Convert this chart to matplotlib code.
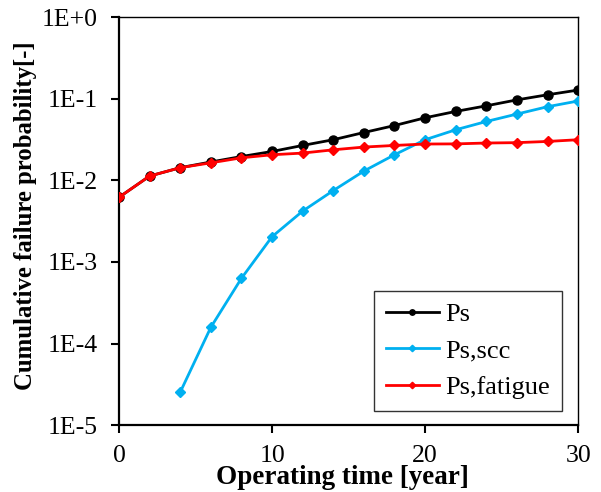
import matplotlib
matplotlib.use("Agg")
import matplotlib.pyplot as plt
from matplotlib.ticker import FixedLocator, FixedFormatter, NullLocator

plt.rcParams['font.family'] = ['Liberation Serif', 'DejaVu Serif']

years = [0, 2, 4, 6, 8, 10, 12, 14, 16, 18, 20, 22, 24, 26, 28, 30]
ps = [0.0062, 0.0113, 0.0143, 0.0168, 0.0196, 0.0226, 0.0268, 0.0315, 0.0386,
      0.047, 0.0585, 0.070, 0.082, 0.097, 0.112, 0.128]
scc_years = [4, 6, 8, 10, 12, 14, 16, 18, 20, 22, 24, 26, 28, 30]
ps_scc = [2.53e-5, 1.58e-4, 6.3e-4, 2.04e-3, 0.0042, 0.0075, 0.013, 0.0206,
          0.0315, 0.0417, 0.0527, 0.065, 0.080, 0.094]
ps_fatigue = [0.0062, 0.0113, 0.0143, 0.0164, 0.0189, 0.0206, 0.0216, 0.0237,
              0.0256, 0.0268, 0.0279, 0.028, 0.0287, 0.029, 0.030, 0.0315]

y_ticks = [1e-5, 1e-4, 1e-3, 1e-2, 1e-1, 1e0]
y_labels = ["1E-5", "1E-4", "1E-3", "1E-2", "1E-1", "1E+0"]
x_ticks = [0, 10, 20, 30]

fig = plt.figure(figsize=(6.01, 4.92), dpi=100)
ax = fig.add_axes([0.198, 0.136, 0.764, 0.829])

ax.plot(years, ps, color='black', lw=2, marker='o', ms=6.5, label='Ps', zorder=3)
ax.plot(scc_years, ps_scc, color='#00B0F0', lw=2, marker='D', ms=5.5, label='Ps,scc', zorder=4)
ax.plot(years, ps_fatigue, color='#FF0000', lw=2, marker='D', ms=5.5, label='Ps,fatigue', zorder=5)

ax.set_yscale('log')
ax.set_ylim(1e-5, 1)
ax.set_xlim(0, 30)
ax.yaxis.set_major_locator(FixedLocator(y_ticks))
ax.yaxis.set_major_formatter(FixedFormatter(y_labels))
ax.yaxis.set_minor_locator(NullLocator())
ax.set_xticks(x_ticks)

ax.tick_params(axis='both', direction='out', length=6, width=1.5, labelsize=18.5, colors='black')
ax.tick_params(axis='x', pad=8)
ax.tick_params(axis='y', pad=9.5)
for s in ['left', 'bottom']:
    ax.spines[s].set_linewidth(1.6)
for s in ['top', 'right']:
    ax.spines[s].set_linewidth(1.0)

ax.set_xlabel('Operating time [year]', fontsize=19.5, fontweight='bold')
ax.xaxis.set_label_coords(0.487, -0.099)
ax.set_ylabel('Cumulative failure probability[-]', fontsize=17.8, fontweight='bold')
ax.yaxis.set_label_coords(-0.178, 0.513)

leg = ax.legend(loc='lower right', bbox_to_anchor=(0.965, 0.034), fontsize=19,
                frameon=True, fancybox=False, edgecolor='black', handlelength=2.0,
                markerscale=0.6, borderpad=0.45, labelspacing=0.5, handletextpad=0.25,
                borderaxespad=0.0)
leg.get_frame().set_linewidth(1.0)

fig.savefig('out.png', dpi=100)
